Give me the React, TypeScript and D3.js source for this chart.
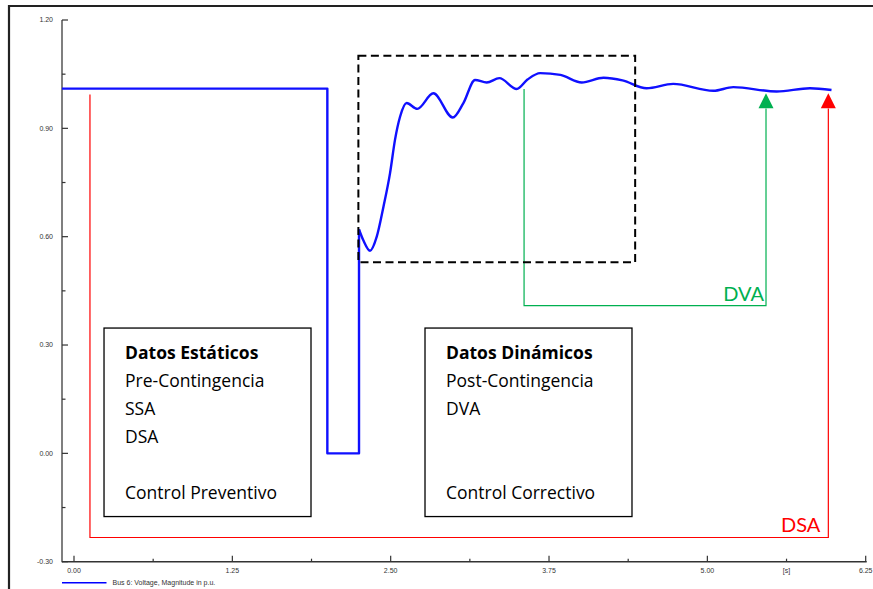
import React from "react";
import * as d3 from "d3";

// ---- data ----
const preFault: [number, number][] = [
  [-0.095, 1.01], [2.0, 1.01], [2.0, 0.0], [2.25, 0.0], [2.25, 0.62],
];
const postT = [2.25, 2.284, 2.337, 2.39, 2.443, 2.495, 2.534, 2.574, 2.626, 2.71, 2.837, 2.99, 3.074, 3.166, 3.258, 3.358, 3.495, 3.58, 3.68, 3.84, 4.008, 4.18, 4.33, 4.52, 4.73, 5.047, 5.205, 5.547, 5.81, 5.98];
const postV = [0.62, 0.59, 0.561, 0.600, 0.683, 0.776, 0.868, 0.932, 0.970, 0.954, 0.997, 0.930, 0.970, 1.034, 1.027, 1.039, 1.009, 1.035, 1.053, 1.048, 1.027, 1.040, 1.033, 1.011, 1.023, 1.004, 1.014, 1.002, 1.011, 1.006];

const yMajor = [-0.3, 0, 0.3, 0.6, 0.9, 1.2];
const yMinor = [-0.15, 0.15, 0.45, 0.75, 1.05];
const xMajor = [0, 1.25, 2.5, 3.75, 5.0, 6.25];
const xMinor = [0.625, 1.875, 3.125, 4.375, 5.625];
const unitLabel = "[s]";
const legendLabel = "Bus 6: Voltage, Magnitude in p.u.";

// annotation geometry in data units
const dashedBox = { t0: 2.245, t1: 4.43, v0: 0.529, v1: 1.101 };
const greenPath: [number, number][] = [[3.553, 1.009], [3.553, 0.409], [5.463, 0.409], [5.463, 0.955]];
const greenTip: [number, number] = [5.463, 0.997];
const redPath: [number, number][] = [[0.126, 0.994], [0.126, -0.233], [5.955, -0.233], [5.955, 0.955]];
const redTip: [number, number] = [5.955, 0.997];

const leftBoxLines = ["Datos Estáticos", "Pre-Contingencia", "SSA", "DSA", "", "Control Preventivo"];
const rightBoxLines = ["Datos Dinámicos", "Post-Contingencia", "DVA", "", "", "Control Correctivo"];
const leftBox = { t0: 0.237, t1: 1.871, v0: -0.175, v1: 0.347 };
const rightBox = { t0: 2.771, t1: 4.405, v0: -0.175, v1: 0.347 };

const W = 873, H = 589;

export default function App() {
  const x = d3.scaleLinear().domain([0, 6.25]).range([74, 865.7]);
  const y = d3.scaleLinear().domain([-0.3, 1.2]).range([561.7, 20]);

  const stepLine = d3.line<[number, number]>().x(d => x(d[0])).y(d => y(d[1]));
  const smoothLine = d3.line<number>().x(i => x(postT[i])).y(i => y(postV[i])).curve(d3.curveMonotoneX);
  const idx = postT.map((_, i) => i);
  const plain = d3.line<[number, number]>().x(d => x(d[0])).y(d => y(d[1]));

  const arrow = (tip: [number, number], color: string) => {
    const tx = x(tip[0]), ty = y(tip[1]);
    return <path d={`M${tx},${ty} L${tx - 7.5},${ty + 15} L${tx + 7.5},${ty + 15} Z`} fill={color} />;
  };

  const box = (b: typeof leftBox, lines: string[]) => {
    const x0 = x(b.t0), x1 = x(b.t1), yTop = y(b.v1), yBot = y(b.v0);
    return (
      <g>
        <rect x={x0} y={yTop} width={x1 - x0} height={yBot - yTop} fill="white" stroke="#000" strokeWidth={1.3} />
        {lines.map((s, i) => (
          <text key={i} x={x0 + 21} y={yTop + 31 + i * 28} fontSize={17.5} fontWeight={i === 0 ? 700 : 400}
            fontFamily="'Open Sans', sans-serif" fill="#000">{s}</text>
        ))}
      </g>
    );
  };

  const tickFont = "Liberation Sans, Arial, sans-serif";

  return (
    <svg width={W} height={H} style={{ position: "absolute", left: 0, top: 0, background: "#fff" }}>
      {/* outer frame */}
      <path d={`M9,${H} L9,6 L${W},6`} fill="none" stroke="#222" strokeWidth={2.2} />

      {/* axes */}
      <line x1={62} x2={62} y1={y(1.2)} y2={y(-0.3) + 0.5} stroke="#555" strokeWidth={1.5} />
      <line x1={62} x2={x(6.25) + 1} y1={y(-0.3)} y2={y(-0.3)} stroke="#333" strokeWidth={1.5} />
      {yMajor.map(v => (
        <g key={"ym" + v}>
          <line x1={62} x2={68} y1={y(v)} y2={y(v)} stroke="#333" strokeWidth={1.2} />
          <text x={53} y={y(v)} dy="0.35em" textAnchor="end" fontSize={7} fontFamily={tickFont} fill="#333">{v.toFixed(2)}</text>
        </g>
      ))}
      {yMinor.map(v => (
        <line key={"yn" + v} x1={62} x2={65.5} y1={y(v)} y2={y(v)} stroke="#333" strokeWidth={1.2} />
      ))}
      {xMajor.map(t => (
        <g key={"xm" + t}>
          <line x1={x(t)} x2={x(t)} y1={y(-0.3)} y2={y(-0.3) - 6} stroke="#333" strokeWidth={1.2} />
          <text x={x(t)} y={572.5} textAnchor="middle" fontSize={7} fontFamily={tickFont} fill="#333">{t.toFixed(2)}</text>
        </g>
      ))}
      {xMinor.map(t => (
        <line key={"xn" + t} x1={x(t)} x2={x(t)} y1={y(-0.3)} y2={y(-0.3) - 3} stroke="#333" strokeWidth={1.2} />
      ))}
      <text x={x(5.625)} y={572.5} textAnchor="middle" fontSize={7} fontFamily={tickFont} fill="#333">{unitLabel}</text>

      {/* legend */}
      <line x1={62} x2={106.5} y1={582.7} y2={582.7} stroke="#0000ff" strokeWidth={1.5} />
      <text x={112.5} y={582.7} dy="0.35em" fontSize={7} fontFamily={tickFont} fill="#333">{legendLabel}</text>

      {/* annotations */}
      <path d={plain(redPath)!} fill="none" stroke="#ff0000" strokeWidth={1.2} />
      {arrow(redTip, "#ff0000")}
      <path d={plain(greenPath)!} fill="none" stroke="#00b050" strokeWidth={1.2} />
      {arrow(greenTip, "#00b050")}
      <text x={x(greenPath[2][0]) - 2} y={y(greenPath[2][1]) - 5} textAnchor="end" fontSize={20}
        fontFamily="Lato, 'Open Sans', sans-serif" fill="#00b050">DVA</text>
      <text x={x(redPath[2][0]) - 8} y={y(redPath[2][1]) - 5.5} textAnchor="end" fontSize={20}
        fontFamily="Lato, 'Open Sans', sans-serif" fill="#ff0000">DSA</text>

      {box(leftBox, leftBoxLines)}
      {box(rightBox, rightBoxLines)}

      {/* curve */}
      <path d={stepLine(preFault)!} fill="none" stroke="#1010ff" strokeWidth={2.4} strokeLinejoin="round" />
      <path d={smoothLine(idx)!} fill="none" stroke="#1010ff" strokeWidth={2.4} strokeLinejoin="round" />

      <rect x={x(dashedBox.t0)} y={y(dashedBox.v1)} width={x(dashedBox.t1) - x(dashedBox.t0)}
        height={y(dashedBox.v0) - y(dashedBox.v1)} fill="none" stroke="#000" strokeWidth={2} strokeDasharray="8,4.5" />
    </svg>
  );
}
